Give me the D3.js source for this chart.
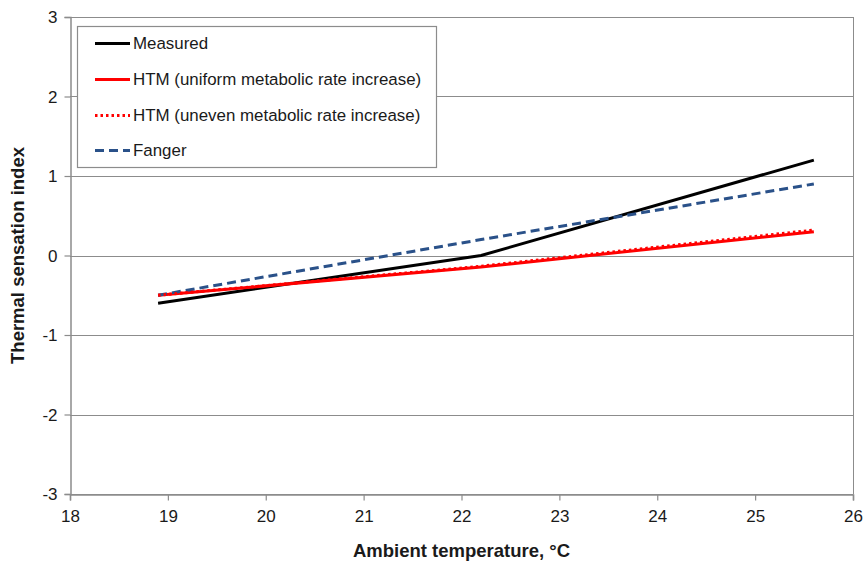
<!DOCTYPE html>
<html>
<head>
<meta charset="utf-8">
<script src="https://cdn.jsdelivr.net/npm/d3@7"></script>
<style>
  body { margin: 0; background: #fff; }
  svg { display: block; font-family: "Liberation Sans", Arial, sans-serif; }
</style>
</head>
<body>
<svg id="chart" width="866" height="561"></svg>
<script>
// Ambient temperature (°C) at each test condition
const temperatures = [18.9, 22.2, 25.6];

// Thermal sensation index per model
const measured   = [-0.6, 0.0, 1.2];
const htmUniform = [-0.5, -0.145, 0.3];
const htmUneven  = [-0.5, -0.135, 0.32];
const fanger     = [-0.5, 0.2, 0.9];

const xTicks = [18, 19, 20, 21, 22, 23, 24, 25, 26];
const yTicks = [-3, -2, -1, 0, 1, 2, 3];

const seriesNames = [
  "Measured",
  "HTM (uniform metabolic rate increase)",
  "HTM (uneven metabolic rate increase)",
  "Fanger"
];

const styles = [
  { color: "#000000", dash: null, width: 3 },
  { color: "#ff0000", dash: null, width: 3 },
  { color: "#ff0000", dash: "2.5,3", width: 3 },
  { color: "#2a5189", dash: "9,5", width: 3 }
];
const seriesValues = [measured, htmUniform, htmUneven, fanger];

const svg = d3.select("#chart");
const margin = { left: 70, top: 17, right: 13, bottom: 67 };
const W = 866, H = 561;

const x = d3.scaleLinear().domain([18, 26]).range([margin.left, W - margin.right]);
const y = d3.scaleLinear().domain([-3, 3]).range([H - margin.bottom, margin.top]);

const gridColor = "#8c8c8c";
const fmt = d => String(d);   // plain hyphen-minus for negatives

// horizontal gridlines
svg.append("g")
  .selectAll("line")
  .data(yTicks)
  .join("line")
  .attr("x1", x(18)).attr("x2", x(26))
  .attr("y1", d => Math.round(y(d)) + 0.5).attr("y2", d => Math.round(y(d)) + 0.5)
  .attr("stroke", gridColor).attr("stroke-width", 1);

// right border of plot area
svg.append("line")
  .attr("x1", Math.round(x(26)) + 0.5).attr("x2", Math.round(x(26)) + 0.5)
  .attr("y1", y(3)).attr("y2", y(-3))
  .attr("stroke", gridColor);

// axes
const xAxis = svg.append("g")
  .attr("transform", `translate(0,${Math.round(y(-3)) + 0.5})`)
  .call(d3.axisBottom(x).tickValues(xTicks).tickSize(6).tickPadding(9).tickFormat(fmt));
const yAxis = svg.append("g")
  .attr("transform", `translate(${Math.round(x(18)) + 0.5},0)`)
  .call(d3.axisLeft(y).tickValues(yTicks).tickSize(6).tickPadding(7).tickFormat(fmt));

[xAxis, yAxis].forEach(g => {
  g.select(".domain").attr("stroke", gridColor).attr("stroke-width", 1.5);
  g.selectAll(".tick line").attr("stroke", gridColor).attr("stroke-width", 1.2);
  g.selectAll(".tick text")
    .attr("fill", "#1a1a1a")
    .style("font-size", "17px")
    .style("font-family", '"Liberation Sans", Arial, sans-serif');
});
yAxis.selectAll(".tick text").attr("dy", "0.35em");

// series lines
const line = d3.line()
  .x((d, i) => x(temperatures[i]))
  .y(d => y(d));

const drawOrder = [0, 1, 3, 2];
drawOrder.forEach(k => {
  svg.append("path")
    .datum(seriesValues[k])
    .attr("d", line)
    .attr("fill", "none")
    .attr("stroke", styles[k].color)
    .attr("stroke-width", styles[k].width)
    .attr("stroke-dasharray", styles[k].dash)
    .attr("stroke-linejoin", "round");
});

// legend
const legend = svg.append("g");
legend.append("rect")
  .attr("x", 77.5).attr("y", 26.5)
  .attr("width", 359).attr("height", 141)
  .attr("fill", "#fff").attr("stroke", gridColor).attr("stroke-width", 1.2);

const rowY = [43.5, 79.5, 115.5, 150.5];
seriesNames.forEach((name, i) => {
  legend.append("line")
    .attr("x1", 95).attr("x2", 130)
    .attr("y1", rowY[i]).attr("y2", rowY[i])
    .attr("stroke", styles[i].color)
    .attr("stroke-width", styles[i].width)
    .attr("stroke-dasharray", styles[i].dash);
  legend.append("text")
    .attr("x", 133).attr("y", rowY[i])
    .attr("dy", "0.35em")
    .attr("fill", "#1a1a1a")
    .style("font-size", "16.9px")
    .text(name);
});

// axis titles
svg.append("text")
  .attr("x", (x(18) + x(26)) / 2).attr("y", 557)
  .attr("text-anchor", "middle")
  .attr("font-weight", "bold")
  .attr("fill", "#1a1a1a")
  .style("font-size", "18.5px")
  .text("Ambient temperature, °C");

svg.append("text")
  .attr("transform", `translate(24,${y(0)}) rotate(-90)`)
  .attr("text-anchor", "middle")
  .attr("font-weight", "bold")
  .attr("fill", "#1a1a1a")
  .style("font-size", "18.5px")
  .text("Thermal sensation index");
</script>
</body>
</html>
